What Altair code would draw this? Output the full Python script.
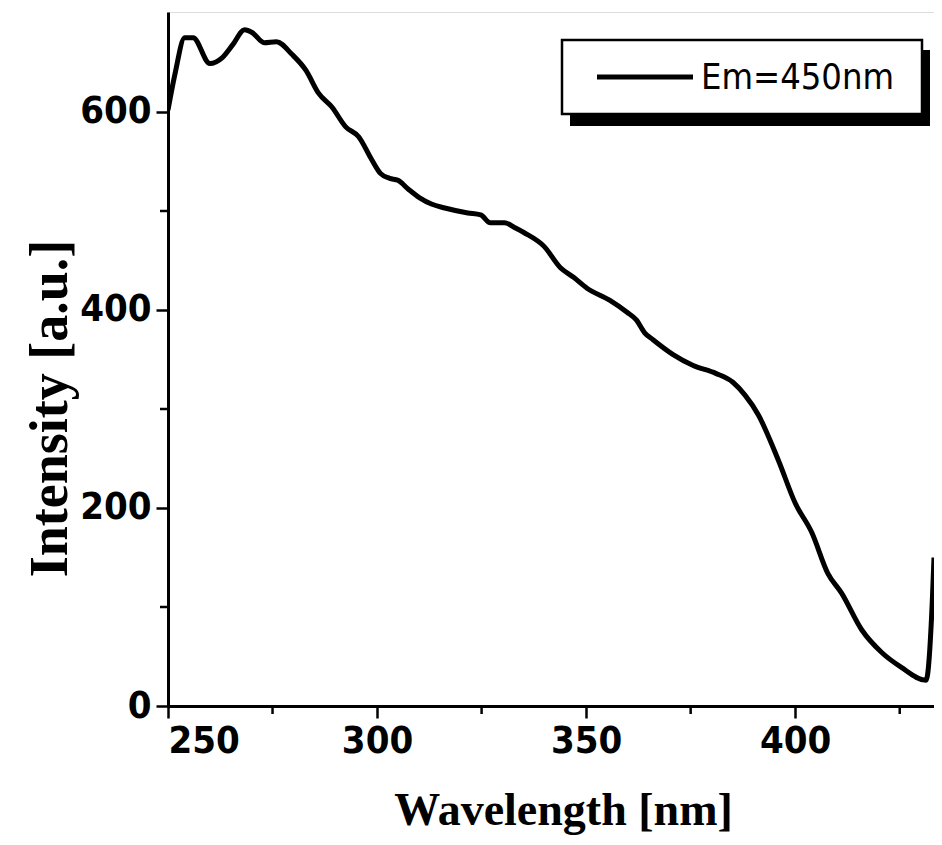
import altair as alt
import pandas as pd

# ---- data ----
wavelength = [250, 251.7, 254, 256, 260, 263, 265.5, 268.3, 270.2, 273, 275.9, 279.7,
              283, 286, 289.2, 292.5, 295.6, 298.7, 300.8, 303, 305, 307.5, 310.3, 313,
              316.2, 321.7, 324.8, 327.1, 330.5, 333, 335.2, 340, 343.8, 347, 350.2,
              355.6, 359.7, 362, 364, 366, 370.8, 375.6, 381, 385.1, 388, 391.2, 396,
              400, 404, 407.8, 411.1, 415.9, 420.7, 425.4, 431.3, 432.8, 433.2]
intensity = [602, 639, 675, 675, 649, 655, 668, 683, 680, 670, 671, 658,
             642, 619, 605, 585, 575, 552, 538, 533, 531, 522, 513, 507,
             503, 498, 496, 488, 488, 483, 478, 464, 443, 433, 422,
             410, 398, 390, 377, 370, 355, 344, 336, 327, 314, 294, 248,
             205, 175, 134, 114, 77, 54, 39, 26, 107, 150]
series_name = "Em=450nm"

x_major = [250, 300, 350, 400]
x_minor = [275, 325, 375, 425]
y_major = [0, 200, 400, 600]
y_minor = [100, 300, 500]

x_domain = [250, 433.2]
y_domain = [0, 701]

W, H = 766, 694
LABEL_FONT = "DejaVu Sans Condensed, Liberation Sans Narrow, sans-serif"
TITLE_FONT = "Liberation Serif, Times New Roman, serif"

df = pd.DataFrame({"wavelength": wavelength, "intensity": intensity, "series": series_name})

xscale = alt.Scale(domain=x_domain, nice=False, zero=False)
yscale = alt.Scale(domain=y_domain, nice=False, zero=False)

line = alt.Chart(df).mark_line(color="black", strokeWidth=5, interpolate="monotone", clip=True).encode(
    x=alt.X("wavelength:Q", scale=xscale,
            axis=alt.Axis(values=x_major, title="Wavelength [nm]", grid=False,
                          tickSize=12, tickWidth=2.5, domainWidth=3, domainColor="black",
                          tickColor="black", labelFont=LABEL_FONT, labelFontSize=38,
                          labelFontWeight="bold", labelColor="black", labelPadding=4,
                          titleFont=TITLE_FONT, titleFontSize=46, titleFontWeight="bold",
                          titleColor="black", titleBaseline="alphabetic",
                          titleX=395, titleY=118, titleAnchor="middle")),
    y=alt.Y("intensity:Q", scale=yscale,
            axis=alt.Axis(values=y_major, title="Intensity [a.u.]", grid=False,
                          tickSize=12, tickWidth=2.5, domainWidth=3, domainColor="black",
                          tickColor="black", labelFont=LABEL_FONT, labelFontSize=38,
                          labelFontWeight="bold", labelColor="black", labelPadding=5,
                          titleFont=TITLE_FONT, titleFontSize=54, titleFontWeight="bold",
                          titleColor="black", titleBaseline="alphabetic",
                          titleX=-102, titleY=396, titleAnchor="middle")),
)

xminor_df = pd.DataFrame({"wavelength": x_minor})
xminor = alt.Chart(xminor_df).mark_rule(color="black", strokeWidth=2.5).encode(
    x=alt.X("wavelength:Q", scale=xscale),
    y=alt.value(H), y2=alt.value(H + 8),
)
yminor_df = pd.DataFrame({"intensity": y_minor})
yminor = alt.Chart(yminor_df).mark_rule(color="black", strokeWidth=2.5).encode(
    y=alt.Y("intensity:Q", scale=yscale),
    x=alt.value(-8), x2=alt.value(0),
)

# legend box (drawn by hand, with its drop shadow)
leg_df = pd.DataFrame({"label": [series_name]})
base = alt.Chart(leg_df)
shadow = base.mark_rect(color="black").encode(
    x=alt.value(402), x2=alt.value(762), y=alt.value(38), y2=alt.value(114))
box = base.mark_rect(fill="white", stroke="black", strokeWidth=2.5).encode(
    x=alt.value(394), x2=alt.value(754), y=alt.value(28), y2=alt.value(102))
leg_line = base.mark_rule(color="black", strokeWidth=5).encode(
    x=alt.value(429), x2=alt.value(525), y=alt.value(65))
leg_text = base.mark_text(align="left", baseline="middle", font=LABEL_FONT,
                          fontSize=36, color="black").encode(
    x=alt.value(533), y=alt.value(66), text="label:N")

chart = alt.layer(line, xminor, yminor, shadow, box, leg_line, leg_text).properties(
    width=W, height=H,
    autosize=alt.AutoSizeParams(type="none"),
    padding={"left": 160, "top": 4, "right": 0, "bottom": 131},
).configure_view(stroke="black", strokeWidth=2.5).configure(background="white")

chart.save("out.html", embed_options={"renderer": "svg", "actions": False})
